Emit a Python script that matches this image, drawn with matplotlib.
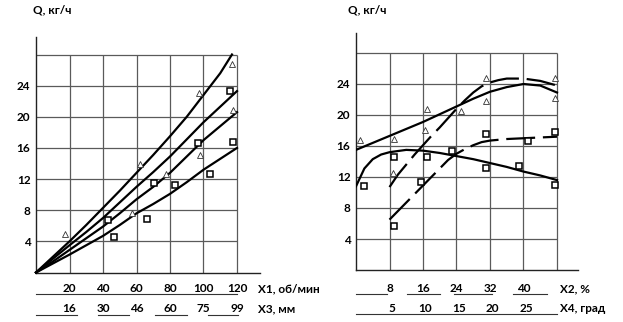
import matplotlib
matplotlib.use("Agg")
import matplotlib.pyplot as plt
from matplotlib.lines import Line2D
from matplotlib.transforms import blended_transform_factory

plt.rcParams['font.family'] = ['Lato', 'DejaVu Sans']

# ---------------- data: left panel (X1, об/мин) ----------------
left_x = [0, 10, 20, 30, 40, 50, 60, 70, 80, 90, 100, 110, 120]
left_c1_x = [0, 10, 20, 30, 40, 50, 60, 70, 80, 90, 100, 110, 117]
left_c1 = [0, 2.0, 4.0, 6.1, 8.3, 10.5, 12.8, 15.1, 17.5, 20.0, 22.8, 25.6, 28.0]
left_c2 = [0, 1.75, 3.5, 5.2, 7.0, 9.0, 11.0, 12.9, 14.9, 17.1, 19.3, 21.3, 23.3]
left_c3 = [0, 1.4, 2.9, 4.4, 5.9, 7.6, 9.4, 11.0, 12.8, 14.9, 17.0, 18.8, 20.6]
left_c4 = [0, 1.15, 2.3, 3.5, 4.7, 6.1, 7.6, 8.8, 10.1, 11.6, 13.2, 14.6, 16.0]

left_tri_x = [17.3, 62, 57.5, 77.5, 97.5, 98, 117, 117.7]
left_tri_y = [4.9, 13.9, 7.6, 12.7, 23.1, 15.1, 26.8, 20.9]
left_sq_x = [42.8, 46.4, 66.3, 70.7, 83, 96.5, 104, 115.6, 117.7]
left_sq_y = [6.8, 4.5, 6.9, 11.5, 11.2, 16.6, 12.7, 23.3, 16.8]

left_ticks = [20, 40, 60, 80, 100, 120]
x1_labels = ['20', '40', '60', '80', '100', '120']
x3_labels = ['16', '30', '46', '60', '75', '99']
y_ticks = [4, 8, 12, 16, 20, 24]
y_grid = [4, 8, 12, 16, 20, 24, 28]

# ---------------- data: right panel (X2, %) ----------------
rA_x = [0, 8, 16, 24, 28, 32, 36, 40, 44, 48]
rA_y = [15.5, 17.3, 19.1, 21.1, 22.1, 23.0, 23.6, 24.0, 23.8, 22.9]
rB_x = [0, 2, 4, 6, 8, 12, 16, 20, 24, 28, 32, 36, 40, 44, 48]
rB_y = [10.8, 13.1, 14.3, 14.9, 15.2, 15.5, 15.4, 15.1, 14.7, 14.3, 13.8, 13.3, 12.7, 12.2, 11.6]
rC_x = [8, 10, 12, 14, 16, 18, 20, 22, 24, 26, 28, 30, 32, 34, 36, 40, 44, 48]
rC_y = [10.7, 12.3, 13.6, 14.9, 16.1, 17.3, 18.4, 19.6, 20.8, 21.9, 22.9, 23.7, 24.2, 24.5, 24.7, 24.7, 24.4, 23.8]
rD_x = [8, 10, 12, 14, 16, 18, 20, 22, 24, 26, 28, 30, 32, 36, 40, 44, 48]
rD_y = [6.5, 7.6, 8.7, 9.8, 10.9, 12.0, 13.1, 14.2, 15.0, 15.6, 16.1, 16.5, 16.7, 16.9, 17.0, 17.1, 17.2]

right_tri_x = [1.0, 9, 8.8, 17, 16.5, 25, 31, 31, 47.5, 47.5]
right_tri_y = [16.8, 16.9, 12.5, 20.8, 18.0, 20.5, 24.8, 21.8, 24.8, 22.2]
right_sq_x = [2, 9, 9, 15.5, 17, 23, 31, 31, 39, 41, 47.5, 47.5]
right_sq_y = [10.9, 14.6, 5.7, 11.4, 14.6, 15.4, 17.6, 13.1, 13.4, 16.6, 17.8, 11.0]

right_ticks = [8, 16, 24, 32, 40]
right_grid = [8, 16, 24, 32, 40, 48]
x2_labels = ['8', '16', '24', '32', '40']
x4_labels = ['5', '10', '15', '20', '25']

W, H = 623, 322
fig = plt.figure(figsize=(W / 100, H / 100), dpi=100)
FS = 8.5
GRID = '#5a5a5a'


def px_axes(x0, x1, y0, y1):
    # x0,x1 px from left; y0 (bottom), y1 (top) px from top
    return fig.add_axes([x0 / W, 1 - y0 / H, (x1 - x0) / W, (y0 - y1) / H])


def fy(py):
    return 1 - py / H


def hline_px(x0, x1, py):
    fig.add_artist(Line2D([x0 / W, x1 / W], [fy(py), fy(py)], color='#333333', lw=0.8,
                          transform=fig.transFigure))


def style(ax, xmax_grid, ymax_grid, xgrid):
    for s in ['top', 'right']:
        ax.spines[s].set_visible(False)
    for s in ['left', 'bottom']:
        ax.spines[s].set_linewidth(1.0)
        ax.spines[s].set_color('#222222')
    ax.set_xticks([])
    ax.set_yticks(y_ticks)
    ax.set_yticklabels([str(v) for v in y_ticks], fontsize=FS, fontweight='bold')
    ax.tick_params(axis='y', length=0, pad=4)
    ax.hlines(y_grid, 0, xmax_grid, color=GRID, lw=0.9, zorder=1)
    ax.vlines(xgrid, 0, ymax_grid, color=GRID, lw=0.9, zorder=1)


# ---------------- left panel ----------------
axL = px_axes(36, 36 + 134 * 201 / 120, 272.5, 272.5 - 30.3 * 218 / 28)
axL.set_xlim(0, 134)
axL.set_ylim(0, 30.3)
style(axL, 120, 28, left_ticks)
for xs, ys in [(left_c1_x, left_c1), (left_x, left_c2), (left_x, left_c3), (left_x, left_c4)]:
    axL.plot(xs, ys, color='black', lw=1.6, zorder=3, clip_on=False)
axL.plot(left_tri_x, left_tri_y, ls='none', marker='^', ms=4.2, mfc='white', mec='#333333', mew=0.6, zorder=4)
axL.plot(left_sq_x, left_sq_y, ls='none', marker='s', ms=4.8, mfc='white', mec='black', mew=1.1, zorder=4)

trL = blended_transform_factory(axL.transData, fig.transFigure)
for x, lab in zip(left_ticks, x1_labels):
    axL.text(x, fy(288), lab, transform=trL, ha='center', va='center', fontsize=FS, fontweight='bold')
for x, lab in zip(left_ticks, x3_labels):
    axL.text(x, fy(308.5), lab, transform=trL, ha='center', va='center', fontsize=FS, fontweight='bold')
fig.text(258 / W, fy(289), 'X1, об/мин', ha='left', va='center', fontsize=FS, fontweight='bold')
fig.text(258 / W, fy(309), 'X3, мм', ha='left', va='center', fontsize=FS, fontweight='bold')
fig.text(33 / W, fy(10), 'Q, кг/ч', ha='left', va='center', fontsize=FS, fontweight='bold')
hline_px(36, 237, 294)
for a, b in [(36, 77), (98, 129), (155, 187), (208, 238)]:
    hline_px(a, b, 315)

# ---------------- right panel ----------------
axR = px_axes(356, 356 + 53 * 201 / 48, 270, 270 - 30.6 * 217 / 28)
axR.set_xlim(0, 53)
axR.set_ylim(0, 30.6)
style(axR, 48, 28, right_grid)
axR.plot(rA_x, rA_y, color='black', lw=1.6, zorder=3)
axR.plot(rB_x, rB_y, color='black', lw=1.6, zorder=3)
axR.plot(rC_x, rC_y, color='black', lw=1.6, zorder=3, dashes=(13, 3.5))
axR.plot(rD_x, rD_y, color='black', lw=1.6, zorder=3, dashes=(13, 3.5))
axR.plot(right_tri_x, right_tri_y, ls='none', marker='^', ms=4.2, mfc='white', mec='#333333', mew=0.6, zorder=4)
axR.plot(right_sq_x, right_sq_y, ls='none', marker='s', ms=4.8, mfc='white', mec='black', mew=1.1, zorder=4)

trR = blended_transform_factory(axR.transData, fig.transFigure)
for x, lab in zip(right_ticks, x2_labels):
    axR.text(x, fy(288), lab, transform=trR, ha='center', va='center', fontsize=FS, fontweight='bold')
for x, lab in zip(right_ticks, x4_labels):
    axR.text(x + 0.6, fy(309), lab, transform=trR, ha='center', va='center', fontsize=FS, fontweight='bold')
fig.text(560 / W, fy(289), 'X2, %', ha='left', va='center', fontsize=FS, fontweight='bold')
fig.text(560 / W, fy(309), 'X4, град', ha='left', va='center', fontsize=FS, fontweight='bold')
fig.text(348 / W, fy(10), 'Q, кг/ч', ha='left', va='center', fontsize=FS, fontweight='bold')
for a, b in [(356, 387), (407, 440), (454, 492), (513, 547)]:
    hline_px(a, b, 293.5)
hline_px(356, 557, 313.5)

fig.savefig('out.png', dpi=100, facecolor='white')
